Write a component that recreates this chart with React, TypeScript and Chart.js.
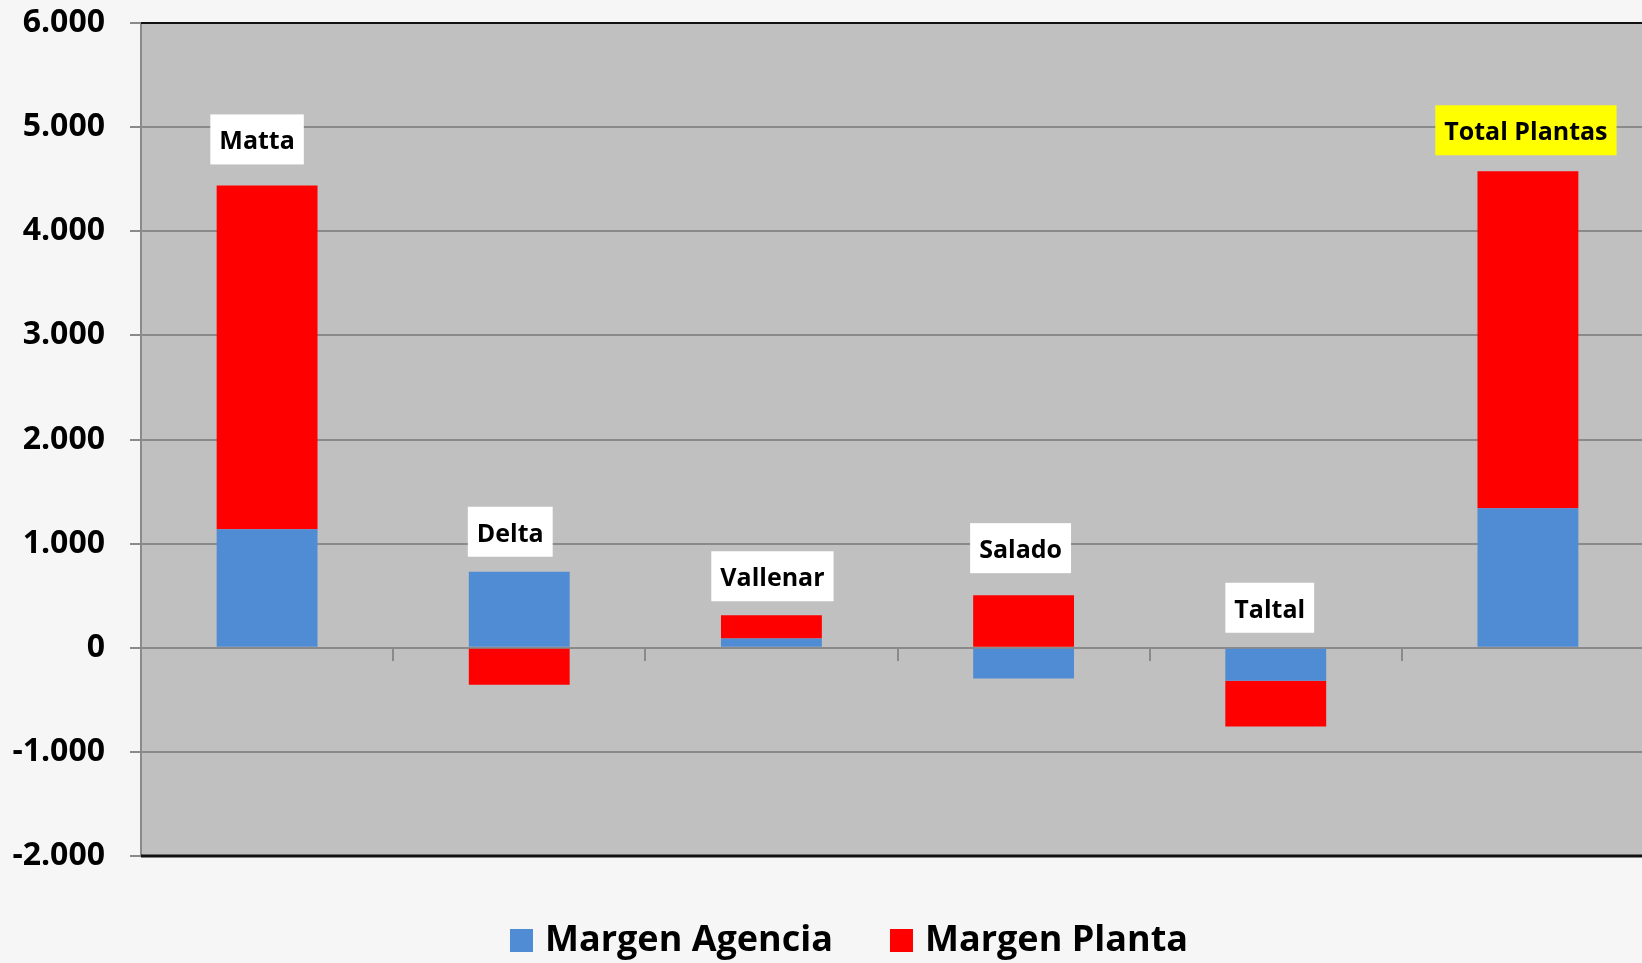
import React, { useEffect, useRef } from "react";
import { Chart, registerables } from "chart.js";

Chart.register(...registerables);

// ---- Data ----
const categories = ["Matta", "Delta", "Vallenar", "Salado", "Taltal", "Total Plantas"];
const margenAgencia = [1137, 730, 90, -295, -318, 1340];
const margenPlanta = [3303, -355, 222, 505, -438, 3236];
const seriesNames = ["Margen Agencia", "Margen Planta"];
const yMin = -2000;
const yMax = 6000;
const yStep = 1000;

// ---- Styles ----
const BLUE = "#508CD4";
const RED = "#FF0000";
const labelFills = ["#FFFFFF", "#FFFFFF", "#FFFFFF", "#FFFFFF", "#FFFFFF", "#FFFF00"];
const labelGap = [21, 15, 14, 22, 15, 16];
const labelDx = [-10, -9, 1, -3, -6, -2];
const FONT = '"Open Sans", "Liberation Sans", sans-serif';

const fmt = (v: number) => {
  const s = Math.abs(v).toString().replace(/\B(?=(\d{3})+(?!\d))/g, ".");
  return (v < 0 ? "-" : "") + s;
};

const backgroundPlugin = {
  id: "bgPlot",
  beforeDraw(chart: any) {
    const { ctx, chartArea } = chart;
    ctx.save();
    ctx.fillStyle = "#f6f6f6";
    ctx.fillRect(0, 0, chart.width, chart.height);
    ctx.fillStyle = "#C0C0C0";
    ctx.fillRect(chartArea.left, chartArea.top, chartArea.right - chartArea.left, chartArea.bottom - chartArea.top);
    ctx.restore();
  },
  afterDraw(chart: any) {
    const { ctx, chartArea } = chart;
    ctx.save();
    ctx.strokeStyle = "#111111";
    ctx.lineWidth = 2;
    ctx.beginPath();
    ctx.moveTo(chartArea.left, chartArea.top);
    ctx.lineTo(chartArea.right, chartArea.top);
    ctx.stroke();
    ctx.lineWidth = 3;
    ctx.beginPath();
    ctx.moveTo(chartArea.left, chartArea.bottom);
    ctx.lineTo(chartArea.right, chartArea.bottom);
    ctx.stroke();
    ctx.restore();
  },
};

const labelPlugin = {
  id: "boxLabels",
  afterDatasetsDraw(chart: any) {
    const { ctx } = chart;
    const xs = chart.scales.x;
    const ys = chart.scales.y;
    ctx.save();
    ctx.font = `bold 25px ${FONT}`;
    categories.forEach((name, i) => {
      let pos = 0;
      chart.data.datasets.forEach((ds: any) => {
        const v = ds.data[i];
        if (v > 0) pos += v;
      });
      const barTop = ys.getPixelForValue(pos);
      const cx = xs.getPixelForValue(i) + labelDx[i];
      const tw = ctx.measureText(name).width;
      const w = tw + 18;
      const h = 50;
      const bottom = barTop - labelGap[i];
      ctx.fillStyle = labelFills[i];
      ctx.fillRect(cx - w / 2, bottom - h, w, h);
      ctx.fillStyle = "#000";
      ctx.textAlign = "center";
      ctx.textBaseline = "alphabetic";
      ctx.fillText(name, cx, bottom - h + 35);
    });
    ctx.restore();
  },
};

const legendPlugin = {
  id: "customLegend",
  afterDraw(chart: any) {
    const { ctx, chartArea } = chart;
    ctx.save();
    ctx.font = `bold 36px ${FONT}`;
    const box = 23;
    const gapBoxText = 12;
    const gapItems = 57;
    const items = chart.data.datasets.map((ds: any) => ({
      text: ds.label,
      color: ds.backgroundColor,
      w: ctx.measureText(ds.label).width,
    }));
    const total = items.reduce((a: number, it: any) => a + box + gapBoxText + it.w, 0) + gapItems * (items.length - 1);
    let x = 849 - total / 2;
    const baseline = chartArea.bottom + 95;
    items.forEach((it: any) => {
      ctx.fillStyle = it.color;
      ctx.fillRect(x, baseline - 22, box, box);
      x += box + gapBoxText;
      ctx.fillStyle = "#000";
      ctx.textAlign = "left";
      ctx.textBaseline = "alphabetic";
      ctx.fillText(it.text, x, baseline);
      x += it.w + gapItems;
    });
    ctx.restore();
  },
};

export default function App() {
  const ref = useRef<HTMLCanvasElement | null>(null);

  useEffect(() => {
    document.documentElement.style.overflow = "hidden";
    document.body.style.overflow = "hidden";
    if (!ref.current) return;
    const chart = new Chart(ref.current, {
      type: "bar",
      data: {
        labels: categories,
        datasets: [
          { label: seriesNames[0], data: margenAgencia, backgroundColor: BLUE, borderWidth: 0 },
          { label: seriesNames[1], data: margenPlanta, backgroundColor: RED, borderWidth: 0 },
        ],
      },
      options: {
        animation: false,
        responsive: true,
        maintainAspectRatio: false,
        layout: { padding: { left: 0, top: 23, right: 26, bottom: 107 } },
        datasets: { bar: { categoryPercentage: 1, barPercentage: 0.4 } },
        plugins: {
          legend: { display: false },
          tooltip: { enabled: false },
        },
        scales: {
          x: {
            stacked: true,
            position: { y: 0 } as any,
            ticks: { display: false },
            grid: {
              drawOnChartArea: false,
              drawTicks: true,
              tickLength: 12,
              color: "#8a8a8a",
              lineWidth: 2,
              offset: true,
            },
            border: { color: "#8a8a8a", width: 2 },
          },
          y: {
            stacked: true,
            min: yMin,
            max: yMax,
            ticks: {
              stepSize: yStep,
              color: "#000",
              padding: 25,
              font: { family: FONT, weight: "bold", size: 32 },
              callback: (v: any) => fmt(Number(v)),
            },
            grid: { color: "#8a8a8a", lineWidth: 2, tickLength: 11, drawTicks: true },
            border: { color: "#8a8a8a", width: 2 },
            afterFit: (s: any) => {
              s.width = 141;
              s.paddingTop = 0;
              s.paddingBottom = 0;
            },
          },
        },
      },
      plugins: [backgroundPlugin, labelPlugin, legendPlugin],
    });
    return () => chart.destroy();
  }, []);

  return (
    <div style={{ position: "fixed", left: 0, top: 0, width: 1680, height: 963, overflow: "hidden" }}>
      <canvas ref={ref} />
    </div>
  );
}
